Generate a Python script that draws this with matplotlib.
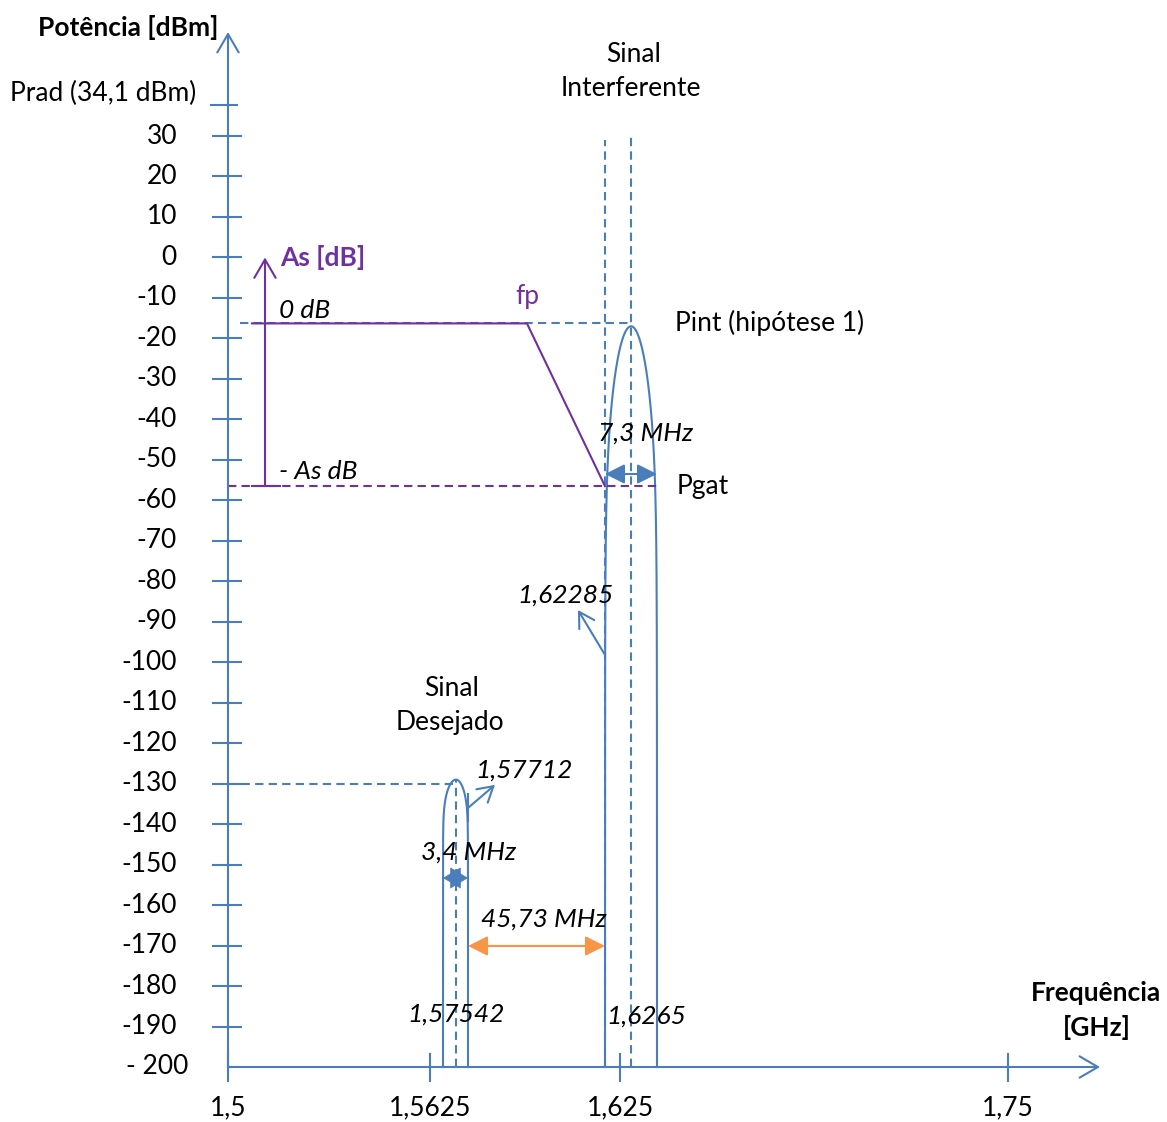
import numpy as np
import matplotlib
matplotlib.use("Agg")
import matplotlib.pyplot as plt
import matplotlib.transforms as mtransforms

plt.rcParams['font.family'] = ['Lato', 'DejaVu Sans']

W, H = 1167, 1122
BLUE = '#4A7EBB'
PURPLE = '#7030A0'
ORANGE = '#F79646'

# ---- data -------------------------------------------------------------
power_ticks = [30, 20, 10, 0, -10, -20, -30, -40, -50, -60, -70, -80, -90,
               -100, -110, -120, -130, -140, -150, -160, -170, -180, -190, -200]
power_labels = ['30', '20', '10', '0', '-10', '-20', '-30', '-40', '-50', '-60',
                '-70', '-80', '-90', '-100', '-110', '-120', '-130', '-140',
                '-150', '-160', '-170', '-180', '-190', '- 200']
prad_dbm = 34.1
freq_ticks = [1.5, 1.5625, 1.625, 1.75]
freq_labels = ['1,5', '1,5625', '1,625', '1,75']

floor_dbm = -200
desired_center = 1.57542      # GHz
desired_bw = 0.0034           # GHz (3,4 MHz)
desired_peak = -129
desired_ref = -130
interf_center = 1.6265        # GHz
interf_bw = 0.0073            # GHz (7,3 MHz)
interf_peak = -17
pint_level = -16.3            # filter 0 dB reference
pgat_level = -56.5            # filter -As level
fp = 1.5968                   # filter corner frequency
filter_start = 1.5074

desired_low = desired_center - desired_bw / 2
desired_high = desired_center + desired_bw / 2      # 1,57712
interf_low = interf_center - interf_bw / 2          # 1,62285
interf_high = interf_center + interf_bw / 2

# ---- schematic (not-to-scale) axes -----------------------------------
XK = [1.40, 1.5, 1.5625, desired_low, desired_center, desired_high,
      interf_low, interf_center, interf_high, 1.75, 1.85]
XP = [-84, 228, 430, 443, 456, 468, 605, 631, 657, 1008, 1320]
YK = [-300, -200, 30, prad_dbm, 100]
YP = [55 - 404.8, 55, 986, 1017, 1017 + 65.9 * 4.048]


def fx(x):
    return np.interp(x, XK, XP)


def fx_inv(p):
    return np.interp(p, XP, XK)


def fy(y):
    return np.interp(y, YK, YP)


def fy_inv(p):
    return np.interp(p, YP, YK)


fig = plt.figure(figsize=(W / 100, H / 100), dpi=100)
ax = fig.add_axes([0, 0, 1, 1])
ax.set_xscale('function', functions=(fx, fx_inv))
ax.set_yscale('function', functions=(fy, fy_inv))
ax.set_xlim(fx_inv(0), fx_inv(W))
ax.set_ylim(fy_inv(0), fy_inv(H))
ax.axis('off')

LW = 1.5
DASH = (0, (4, 2.5))
FS = 19

# blended transforms: pixel position across the axis, data along it
bx = mtransforms.blended_transform_factory(ax.transAxes, ax.transData)
by = mtransforms.blended_transform_factory(ax.transData, ax.transAxes)


def px(v):
    return v / W


def py(v):
    return 1 - v / H


OPEN_HEAD = dict(arrowstyle='->,head_length=0.6,head_width=0.35', lw=LW,
                 shrinkA=0, shrinkB=0, mutation_scale=22)
FILLED_2 = dict(arrowstyle='<|-|>,head_length=1.0,head_width=0.5', lw=LW,
                shrinkA=0, shrinkB=0, mutation_scale=12)

# axes with open arrow heads
y_top = fy_inv(H - 32)
x_end = fx_inv(1100)
ax.annotate('', xy=(1.5, y_top), xytext=(1.5, floor_dbm),
            arrowprops=dict(color=BLUE, **OPEN_HEAD))
ax.annotate('', xy=(x_end, floor_dbm), xytext=(1.5, floor_dbm),
            arrowprops=dict(color=BLUE, **OPEN_HEAD))

# y ticks and labels
for v, lab in zip(power_ticks, power_labels):
    if v > floor_dbm:
        ax.plot([px(213), px(241)], [v, v], color=BLUE, lw=LW, transform=bx)
        ax.text(px(177), v, lab, transform=bx, ha='right', va='center',
                fontsize=FS, color='black')
    else:
        ax.text(px(188), v, lab, transform=bx, ha='right', va='center',
                fontsize=FS, color='black')
ax.plot([px(211), px(237)], [prad_dbm, prad_dbm], color=BLUE, lw=LW, transform=bx)
ax.annotate('Prad (34,1 dBm)', xy=(px(196), prad_dbm), xycoords=bx,
            xytext=(0, 12), textcoords='offset pixels', ha='right',
            va='center', fontsize=FS)

# x ticks and labels
for v, lab in zip(freq_ticks, freq_labels):
    ax.plot([v, v], [py(1054), py(1081)], color=BLUE, lw=LW, transform=by)
    ax.text(v, py(1108), lab, transform=by, ha='center', va='center',
            fontsize=FS)

# axis titles
ax.text(px(128), py(28), 'Potência [dBm]', transform=ax.transAxes,
        ha='center', va='center', fontsize=FS, fontweight='bold')
ax.text(px(1096), py(993), 'Frequência', transform=ax.transAxes,
        ha='center', va='center', fontsize=FS, fontweight='bold')
ax.text(px(1097), py(1027), '[GHz]', transform=ax.transAxes,
        ha='center', va='center', fontsize=FS, fontweight='bold')


# spectral bells
def bell(center, bw, peak, k, m, n=1201):
    t = np.sin(np.linspace(-np.pi / 2, np.pi / 2, n))
    denom = np.clip(1 - t ** 2, 1e-12, None)
    s = np.minimum(1.0, k * t ** 2 * denom ** (-m))
    s[0] = s[-1] = 1.0
    return center + t * bw / 2, peak - (peak - floor_dbm) * s


xd, yd = bell(desired_center, desired_bw, desired_peak, 0.08, 0.237)
ax.plot(xd, yd, color=BLUE, lw=LW)
xi, yi = bell(interf_center, interf_bw, interf_peak, 0.157, 0.237)
ax.plot(xi, yi, color=BLUE, lw=LW)

# dashed reference lines
ax.plot([desired_center, desired_center], [floor_dbm, desired_peak],
        color=BLUE, lw=LW, ls=DASH)
ax.plot([1.5, desired_center], [desired_ref, desired_ref],
        color=BLUE, lw=LW, ls=DASH)
ax.plot([interf_low, interf_low], [floor_dbm, 29], color=BLUE, lw=LW, ls=DASH)
ax.plot([interf_center, interf_center], [floor_dbm, 30], color=BLUE, lw=LW, ls=DASH)
ax.plot([fx_inv(240), interf_center], [pint_level, pint_level],
        color=BLUE, lw=LW, ls=DASH)
ax.plot([1.5, fx_inv(660)], [pgat_level, pgat_level],
        color=PURPLE, lw=LW, ls=DASH)

# filter mask
ax.plot([filter_start, fp, interf_low], [pint_level, pint_level, pgat_level],
        color=PURPLE, lw=LW)
as_x = fx_inv(265)
ax.plot([filter_start, fx_inv(280)], [pgat_level, pgat_level], color=PURPLE, lw=LW)
ax.annotate('', xy=(as_x, 0), xytext=(as_x, pgat_level),
            arrowprops=dict(color=PURPLE, **OPEN_HEAD))
ax.text(fx_inv(280), 0, 'As [dB]', ha='left', va='center', fontsize=FS,
        fontweight='bold', color=PURPLE)
ax.text(fx_inv(279), pint_level + 0.3, '0 dB', ha='left', va='bottom',
        fontsize=FS, style='italic')
ax.text(fx_inv(279), pgat_level + 0.8, '- As dB', ha='left', va='bottom',
        fontsize=FS, style='italic')
ax.text(fp, pint_level + 3.5, 'fp', ha='center', va='bottom', fontsize=FS,
        color=PURPLE)

# bandwidth / spacing arrows
ax.annotate('', xy=(interf_high, -53.5), xytext=(interf_low, -53.5),
            arrowprops=dict(color=BLUE, **FILLED_2))
ax.text(fx_inv(646), -43.4, '7,3 MHz', ha='center', va='center', fontsize=FS,
        style='italic')
# 3,4 MHz: two filled heads meeting in the middle (diamond)
ax.annotate('', xy=(desired_high, -153.3), xytext=(desired_center, -153.3),
            arrowprops=dict(arrowstyle='-|>,head_length=1.0,head_width=0.6',
                            color=BLUE, lw=0.5, shrinkA=0, shrinkB=0,
                            mutation_scale=12))
ax.annotate('', xy=(desired_low, -153.3), xytext=(desired_center, -153.3),
            arrowprops=dict(arrowstyle='-|>,head_length=1.0,head_width=0.6',
                            color=BLUE, lw=0.5, shrinkA=0, shrinkB=0,
                            mutation_scale=12))
ax.text(fx_inv(469), -146.9, '3,4 MHz', ha='center', va='center', fontsize=FS,
        style='italic')
ax.annotate('', xy=(interf_low, -170.1), xytext=(desired_high, -170.1),
            arrowprops=dict(color=ORANGE, **FILLED_2))
ax.text(fx_inv(544), -163.4, '45,73 MHz', ha='center', va='center', fontsize=FS,
        style='italic')

# frequency callouts
CALLOUT = dict(arrowstyle='->,head_length=0.6,head_width=0.35', lw=LW,
               shrinkA=0, shrinkB=0, mutation_scale=18, color=BLUE)
ax.plot([desired_high, desired_high], [-132.6, -139.3], color=BLUE, lw=LW)
ax.annotate('', xy=(fx_inv(495), -130.3), xytext=(desired_high, -136),
            arrowprops=CALLOUT)
ax.text(fx_inv(524), -126.6, '1,57712', ha='center', va='center', fontsize=FS,
        style='italic')
ax.annotate('', xy=(fx_inv(578), -87.1), xytext=(interf_low, -98.2),
            arrowprops=CALLOUT)
ax.text(fx_inv(565), -83.4, '1,62285', ha='center', va='center', fontsize=FS,
        style='italic')
ax.text(desired_center, -186.9, '1,57542', ha='center', va='center',
        fontsize=FS, style='italic')
ax.text(fx_inv(646), -187.4, '1,6265', ha='center', va='center', fontsize=FS,
        style='italic')

# signal names
ax.text(px(634), py(55), 'Sinal', transform=ax.transAxes, ha='center',
        va='center', fontsize=FS)
ax.text(px(631), py(89), 'Interferente', transform=ax.transAxes, ha='center',
        va='center', fontsize=FS)
ax.text(fx_inv(675), pint_level, 'Pint (hipótese 1)', ha='left', va='center',
        fontsize=FS)
ax.text(fx_inv(677), pgat_level, 'Pgat', ha='left', va='center', fontsize=FS)
ax.text(fx_inv(452), -106.6, 'Sinal', ha='center', va='center', fontsize=FS)
ax.text(fx_inv(450), -115.0, 'Desejado', ha='center', va='center', fontsize=FS)

fig.savefig('out.png', dpi=100)
